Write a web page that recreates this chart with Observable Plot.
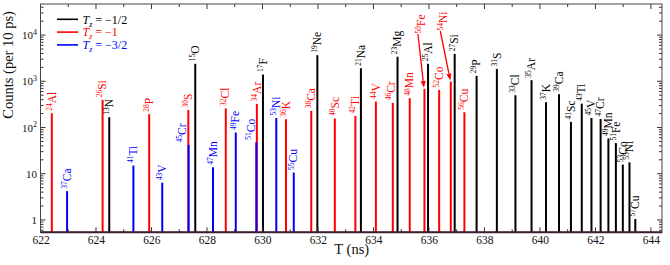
<!DOCTYPE html>
<html><head><meta charset="utf-8">
<script src="https://cdn.jsdelivr.net/npm/d3@7"></script>
<script src="https://cdn.jsdelivr.net/npm/@observablehq/plot@0.6"></script>
<style>
html,body{margin:0;padding:0;background:#fff;}
#chart svg{display:block;}
</style></head><body><div id="chart"></div>
<script>
// Tz = -1/2 (black)
const halfNames = ["13N","15O","17F","19Ne","21Na","23Mg","25Al","27Si","29P","31S","33Cl","35Ar","37K","39Ca","41Sc","43Ti","45V","47Cr","49Mn","51Fe","53Co","55Ni","57Cu"];
const halfT = [624.46,627.56,630.00,631.96,633.53,634.85,635.95,636.91,637.70,638.43,639.10,639.68,640.20,640.67,641.10,641.49,641.84,642.17,642.45,642.72,642.97,643.21,643.42];
const halfCounts = [167,2390,1400,3670,1920,3400,2390,3920,1310,1850,500,1057,353,526,132,329,161,153,58,46,15.7,17.6,1.05];
// Tz = -1 (red)
const oneNames = ["24Al","26Si","28P","30S","32Cl","34Ar","36K","38Ca","40Sc","42Ti","44V","46Cr","48Mn","50Fe","52Co","54Ni","56Cu"];
const oneT = [622.39,624.22,625.90,627.31,628.66,629.78,630.83,631.74,632.59,633.33,634.07,634.68,635.29,635.82,636.35,636.77,637.26];
const oneCounts = [204,396,194,240,259,324,151,229,157,178,364,341,431,685,651,985,214];
// Tz = -3/2 (blue)
const threeHalfNames = ["37Ca","41Ti","43V","45Cr","47Mn","49Fe","51Co","53Ni","55Cu"];
const threeHalfT = [622.94,625.33,626.37,627.32,628.20,629.02,629.76,630.48,631.11];
const threeHalfCounts = [4.2,15,6.4,42,13.8,78,48,160,10.6];

const seriesTz = ["\u22121/2","\u22121","\u22123/2"];
const seriesColors = ["#000000","#ff0000","#0000ff"];
const xTicks = [622,624,626,628,630,632,634,636,638,640,642,644];
const yTicks = [1,10,100,1000,10000];

const W = 670, H = 265;
const xDomain = [622, 644.4];
const yDomain = [0.54, 47000];

const series = [
  {names: halfNames, T: halfT, counts: halfCounts},
  {names: oneNames, T: oneT, counts: oneCounts},
  {names: threeHalfNames, T: threeHalfT, counts: threeHalfCounts}
];
const rows = series.flatMap((s, si) => s.names.map((n, i) => {
  const m = n.match(/^(\d+)(\D+)$/);
  return {name: n, T: s.T[i], v: s.counts[i], s: si, label: "^" + m[1] + m[2]};
}));

// label placement tweaks (layout only)
const nudges = {"45Cr": {dx: -6}, "51Co": {dx: -5}, "46Cr": {dx: -2}, "50Fe": {dx: -8, top: 29}, "54Ni": {dx: -12, top: 26}};
const LABEL_SIZE = 11.5;

const ruleMarks = series.map((s, si) =>
  Plot.ruleX(rows.filter(d => d.s === si), {x: "T", y1: yDomain[0], y2: "v", stroke: seriesColors[si], strokeWidth: 2})
);

const labelMarks = [];
series.forEach((s, si) => {
  const plain = rows.filter(d => d.s === si && !nudges[d.name]);
  labelMarks.push(Plot.text(plain, {x: "T", y: "v", text: "label", rotate: -90, textAnchor: "start", dy: -3, fill: seriesColors[si], fontSize: LABEL_SIZE}));
});
Object.entries(nudges).forEach(([name, nd]) => {
  const d = rows.find(r => r.name === name);
  const color = seriesColors[d.s];
  if (nd.top != null) {
    labelMarks.push(Plot.text([d], {x: "T", frameAnchor: "top", text: "label", rotate: -90, textAnchor: "start", dx: nd.dx, dy: nd.top, fill: color, fontSize: LABEL_SIZE}));
  } else {
    labelMarks.push(Plot.text([d], {x: "T", y: "v", text: "label", rotate: -90, textAnchor: "start", dx: nd.dx, dy: -3, fill: color, fontSize: LABEL_SIZE}));
  }
});

function decor(index, scales, values, dims) {
  const x = scales.x, y = scales.y;
  const {width, height, marginTop, marginRight, marginBottom, marginLeft} = dims;
  const L = marginLeft, R = width - marginRight, Tp = marginTop, B = height - marginBottom;
  const g = d3.create("svg:g");
  const tk = g.append("g").attr("stroke", "#333").attr("stroke-width", 1).attr("fill", "none");
  for (let v = Math.ceil(xDomain[0]); v <= xDomain[1]; v++) {
    const len = v % 2 === 0 ? 5 : 3; const px = x(v);
    tk.append("line").attr("x1", px).attr("x2", px).attr("y1", B).attr("y2", B - len);
    tk.append("line").attr("x1", px).attr("x2", px).attr("y1", Tp).attr("y2", Tp + len);
  }
  for (const d of [0.1, 1, 10, 100, 1000, 10000]) {
    for (let k = 1; k <= 9; k++) {
      const v = k * d;
      if (v < yDomain[0] || v > yDomain[1]) continue;
      const len = k === 1 ? 5 : 3; const py = y(v);
      tk.append("line").attr("x1", L).attr("x2", L + len).attr("y1", py).attr("y2", py);
      tk.append("line").attr("x1", R).attr("x2", R - len).attr("y1", py).attr("y2", py);
    }
  }
  g.append("rect").attr("x", L).attr("y", Tp).attr("width", R - L).attr("height", B - Tp)
    .attr("fill", "none").attr("stroke", "#444").attr("stroke-width", 1);
  g.append("line").attr("x1", L).attr("x2", R).attr("y1", B).attr("y2", B)
    .attr("stroke", "#3b1d33").attr("stroke-width", 2);
  // arrows for displaced labels
  Object.entries(nudges).forEach(([name, nd]) => {
    if (nd.top == null) return;
    const d = rows.find(r => r.name === name);
    const x0 = x(d.T) + nd.dx + 2, y0 = Tp + nd.top + 1;
    const x1 = x(d.T), y1 = y(d.v) - 1;
    const ang = Math.atan2(y1 - y0, x1 - x0);
    const hl = 7, hw = 2.5;
    const bx = x1 - hl * Math.cos(ang), by = y1 - hl * Math.sin(ang);
    const nx = -Math.sin(ang) * hw, ny = Math.cos(ang) * hw;
    g.append("line").attr("x1", x0).attr("y1", y0).attr("x2", bx).attr("y2", by)
      .attr("stroke", seriesColors[d.s]).attr("stroke-width", 1.3);
    g.append("path").attr("d", `M${x1},${y1}L${bx + nx},${by + ny}L${bx - nx},${by - ny}Z`).attr("fill", seriesColors[d.s]);
  });
  // legend
  const lg = g.append("g").attr("font-family", "'Liberation Serif', serif").attr("font-size", 12).attr("text-anchor", "start");
  seriesTz.forEach((tz, i) => {
    const ly = Tp + 15.3 + i * 12.8;
    lg.append("line").attr("x1", L + 16.5).attr("x2", L + 37.5).attr("y1", ly).attr("y2", ly)
      .attr("stroke", seriesColors[i]).attr("stroke-width", 1.6);
    const t = lg.append("text").attr("x", L + 42).attr("y", ly).attr("dy", "0.35em").attr("fill", seriesColors[i]).attr("text-anchor", "start");
    t.append("tspan").attr("font-style", "italic").text("T");
    t.append("tspan").attr("font-style", "italic").attr("font-size", 8).attr("dy", 3).text("z");
    t.append("tspan").attr("dy", -3).text(" = " + tz);
  });
  return g.node();
}

const plot = Plot.plot({
  width: W, height: H,
  marginLeft: 40.5, marginRight: 8, marginTop: 4, marginBottom: 32.7,
  x: {domain: xDomain},
  y: {type: "log", domain: yDomain},
  style: {fontFamily: "'Liberation Serif', serif", fontSize: "11px", background: "#fff", color: "#111"},
  marks: [
    ...ruleMarks,
    ...labelMarks,
    Plot.axisX({ticks: xTicks, tickSize: 0, tickPadding: 3, tickFormat: d => String(d), label: null, fontSize: 11.5}),
    Plot.axisY({ticks: yTicks, tickSize: 0, tickPadding: 4, tickFormat: d => d >= 100 ? "10^" + Math.round(Math.log10(d)) : String(d), label: null, fontSize: 11}),
    Plot.text(["T (ns)"], {text: d => d, frameAnchor: "bottom", dy: 21.5, fontSize: 14.5}),
    Plot.text(["Counts (per 10 ps)"], {text: d => d, frameAnchor: "left", rotate: -90, dx: -33, fontSize: 14.5}),
    decor
  ]
});

function supify(el, supSize, shift) {
  const s = el.textContent;
  const m = s.match(/^(.*?)\^(\d+)(.*)$/);
  if (!m) return;
  while (el.firstChild) el.removeChild(el.firstChild);
  const ns = "http://www.w3.org/2000/svg";
  const add = (txt, size, dy) => {
    if (!txt) return;
    const t = document.createElementNS(ns, "tspan");
    t.textContent = txt;
    if (size) t.setAttribute("font-size", size);
    if (dy) t.setAttribute("dy", dy);
    el.appendChild(t);
  };
  add(m[1], null, 0);
  add(m[2], supSize, -shift);
  add(m[3], null, m[3] ? shift : 0);
}
plot.querySelectorAll("text").forEach(t => {
  const s = t.textContent;
  if (!s.includes("^")) return;
  if (s.startsWith("^")) supify(t, 7.5, 3.8); else supify(t, 8, 4.5);
});
document.getElementById("chart").append(plot);
</script>
</body></html>
